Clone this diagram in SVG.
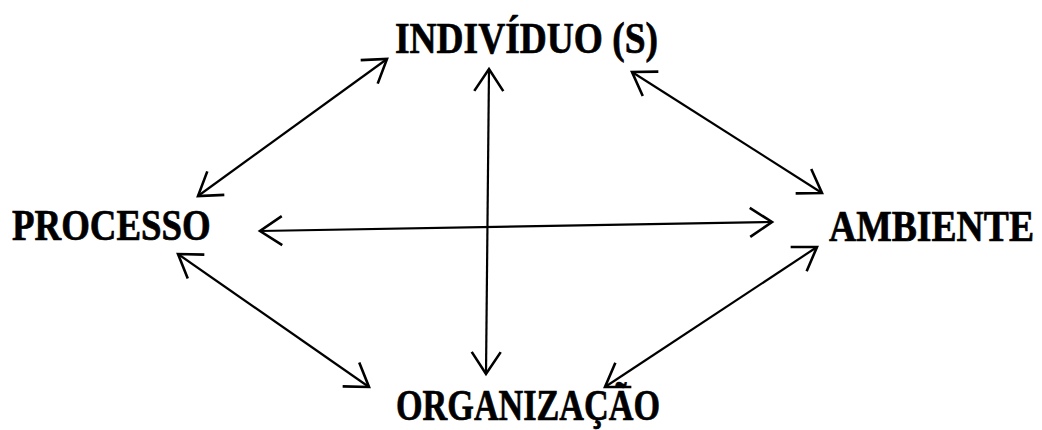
<svg xmlns="http://www.w3.org/2000/svg" width="1042" height="430" viewBox="0 0 1042 430">
  <style>
    .lbl { font-family: "Liberation Serif", "Times New Roman", serif; font-weight: bold; font-size: 45px; fill: #000; stroke: #000; stroke-width: 0.7; }
    .con { stroke: #000; stroke-width: 2.2; fill: none; marker-start: url(#ah); marker-end: url(#ah); }
  </style>
  <defs>
    <marker id="ah" markerUnits="userSpaceOnUse" orient="auto-start-reverse" markerWidth="40" markerHeight="40" refX="0" refY="0" viewBox="-30 -20 40 40" overflow="visible">
      <path d="M-22,-14.5 L0,0 L-22,14.5" fill="none" stroke="#000" stroke-width="2.6" stroke-linejoin="miter"/>
    </marker>
  </defs>
  <rect width="1042" height="430" fill="#fff"/>
  <g id="connectors">
    <line class="con" x1="198" y1="196" x2="387" y2="59"/>
    <line class="con" x1="632" y1="72" x2="822" y2="193"/>
    <line class="con" x1="178" y1="254" x2="369" y2="387"/>
    <line class="con" x1="605" y1="387" x2="817" y2="247"/>
    <line class="con" x1="260" y1="231" x2="772" y2="222"/>
    <line class="con" x1="489" y1="69" x2="486" y2="374"/>
  </g>
  <g id="individuo"><text class="lbl" transform="translate(395,53) scale(0.832,1)">INDIVÍDUO (S)</text></g>
  <g id="processo"><text class="lbl" transform="translate(12,240) scale(0.82,1)">PROCESSO</text></g>
  <g id="ambiente"><text class="lbl" transform="translate(829,241) scale(0.837,1)">AMBIENTE</text></g>
  <g id="organizacao"><text class="lbl" transform="translate(396,420) scale(0.76,1)">ORGANIZAÇÃO</text></g>
</svg>
